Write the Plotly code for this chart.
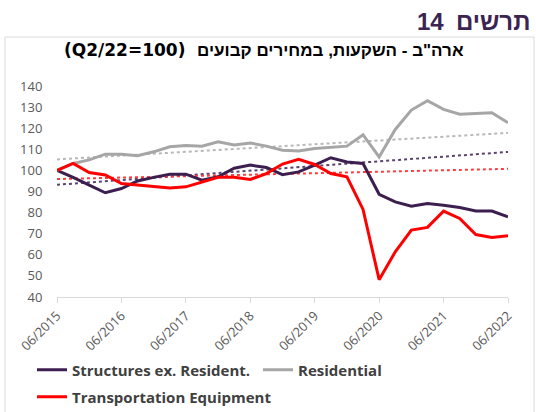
import numpy as np
import plotly.graph_objects as go

quarters = ["06/2015", "09/2015", "12/2015", "03/2016", "06/2016", "09/2016", "12/2016",
            "03/2017", "06/2017", "09/2017", "12/2017", "03/2018", "06/2018", "09/2018",
            "12/2018", "03/2019", "06/2019", "09/2019", "12/2019", "03/2020", "06/2020",
            "09/2020", "12/2020", "03/2021", "06/2021", "09/2021", "12/2021", "03/2022",
            "06/2022"]
tick_labels = ["06/2015", "06/2016", "06/2017", "06/2018", "06/2019", "06/2020", "06/2021", "06/2022"]

structures = [100, 96.7, 93, 89.4, 91.4, 95, 96.7, 98.2, 98.2, 95.4, 97, 101, 102.5, 101.4,
              98, 99.3, 102.5, 106, 104, 103.3, 88.7, 85.1, 83, 84.3, 83.5, 82.4, 80.8, 80.7, 78]
residential = [100, 103.3, 105, 107.7, 107.7, 107, 108.8, 111.2, 111.8, 111.5, 113.6, 112, 113,
               111.5, 109.6, 109.2, 110.4, 111, 111.5, 116.9, 106.4, 119.4, 128.6, 133, 128.9,
               126.6, 127, 127.3, 122.6]
transport = [100, 103.3, 99, 97.8, 93.8, 93, 92.2, 91.7, 92.2, 94.6, 96.7, 96.7, 95.7, 98.5,
             103, 105.2, 102.8, 98.5, 97, 81.5, 48.2, 61.4, 71.7, 73, 80.7, 77.2, 69.6, 68.2, 69]

series_names = ["Structures ex. Resident.", "Residential", "Transportation Equipment"]
trend_fit_last = "12/2019"   # linear trends fitted on pre-COVID quarters

heading_word = "תרשים"
heading_num = "14"
title_note = "(Q2/22=100)"
title_he = "ארה\"ב - השקעות, במחירים קבועים"

colors = ["#3c1f4e", "#a6a6a6", "#ff0000"]
trend_colors = ["#5b4370", "#b8b8b8", "#ff3b3b"]

W, H = 536, 412
L, R, T, B = 57, 28, 86, 115
pw, ph = W - L - R, H - T - B

HE_FONT = "Liberation Sans, Arial, sans-serif"
LAT_FONT = "Open Sans, Liberation Sans, sans-serif"
NOTE_FONT = "DejaVu Sans, Liberation Sans, sans-serif"


def px_x(x):
    return (x - L) / pw


def px_y(y):
    return (H - B - y) / ph


fig = go.Figure()
n_fit = quarters.index(trend_fit_last) + 1
idx = np.arange(len(quarters))
all_series = [structures, residential, transport]

for s, c in zip(all_series, trend_colors):
    k, b0 = np.polyfit(idx[:n_fit], np.array(s[:n_fit]), 1)
    fig.add_trace(go.Scatter(x=quarters, y=k * idx + b0, mode="lines",
                             line=dict(color=c, width=2, dash="dot"),
                             showlegend=False, hoverinfo="skip"))

legends = ["legend", "legend", "legend2"]
for s, c, nm, lg in zip(all_series, colors, series_names, legends):
    fig.add_trace(go.Scatter(x=quarters, y=s, mode="lines", name="<b>" + nm + "</b>",
                             line=dict(color=c, width=3), legend=lg))

fig.update_layout(
    width=W, height=H,
    margin=dict(l=L, r=R, t=T, b=B, autoexpand=False),
    paper_bgcolor="white", plot_bgcolor="white",
    font=dict(family=LAT_FONT, color="#595959"),
    xaxis=dict(type="category", categoryorder="array", categoryarray=quarters,
               range=[0, len(quarters) - 1], tickmode="array", tickvals=tick_labels,
               ticktext=tick_labels, tickangle=-45, tickfont=dict(size=13, color="#595959"),
               ticks="outside", ticklen=5, tickcolor="#d9d9d9", showline=True,
               linecolor="#d9d9d9", linewidth=1, showgrid=False, zeroline=False),
    yaxis=dict(range=[40, 140], dtick=10, tickfont=dict(size=13, color="#595959"),
               ticks="outside", ticklen=11, tickcolor="rgba(0,0,0,0)",
               showline=False, showgrid=False, zeroline=False),
    legend=dict(orientation="h", x=px_x(32), y=px_y(370), xanchor="left", yanchor="middle",
                entrywidth=181, entrywidthmode="pixels",
                font=dict(size=15, color="#404040", family=LAT_FONT),
                bgcolor="rgba(0,0,0,0)"),
    legend2=dict(orientation="h", x=px_x(32), y=px_y(397), xanchor="left", yanchor="middle",
                 font=dict(size=15, color="#404040", family=LAT_FONT),
                 bgcolor="rgba(0,0,0,0)"),
    showlegend=True,
)

fig.add_shape(type="rect", xref="paper", yref="paper",
              x0=px_x(5), x1=px_x(534), y0=px_y(430), y1=px_y(37),
              line=dict(color="#d9d9d9", width=1), fillcolor="rgba(0,0,0,0)", layer="below")

fig.add_annotation(text="<b>" + heading_word + "</b>", xref="paper", yref="paper",
                   x=px_x(532), y=px_y(21), xanchor="right", yanchor="middle",
                   showarrow=False, font=dict(size=24, color="#3b2452", family=HE_FONT))
fig.add_annotation(text="<b>" + heading_num + "</b>", xref="paper", yref="paper",
                   x=px_x(446), y=px_y(21), xanchor="right", yanchor="middle",
                   showarrow=False, font=dict(size=24, color="#3b2452", family=HE_FONT))
fig.add_annotation(text="<b>" + title_note + "</b>", xref="paper", yref="paper",
                   x=px_x(62), y=px_y(50), xanchor="left", yanchor="middle",
                   showarrow=False, font=dict(size=17, color="#000000", family=NOTE_FONT))
fig.add_annotation(text="<b>" + title_he + "</b>", xref="paper", yref="paper",
                   x=px_x(466), y=px_y(50), xanchor="right", yanchor="middle",
                   showarrow=False, font=dict(size=17, color="#000000", family=HE_FONT))

fig.write_html("out.html", config={"displayModeBar": False},
               post_script="document.body.style.margin='0px';")
